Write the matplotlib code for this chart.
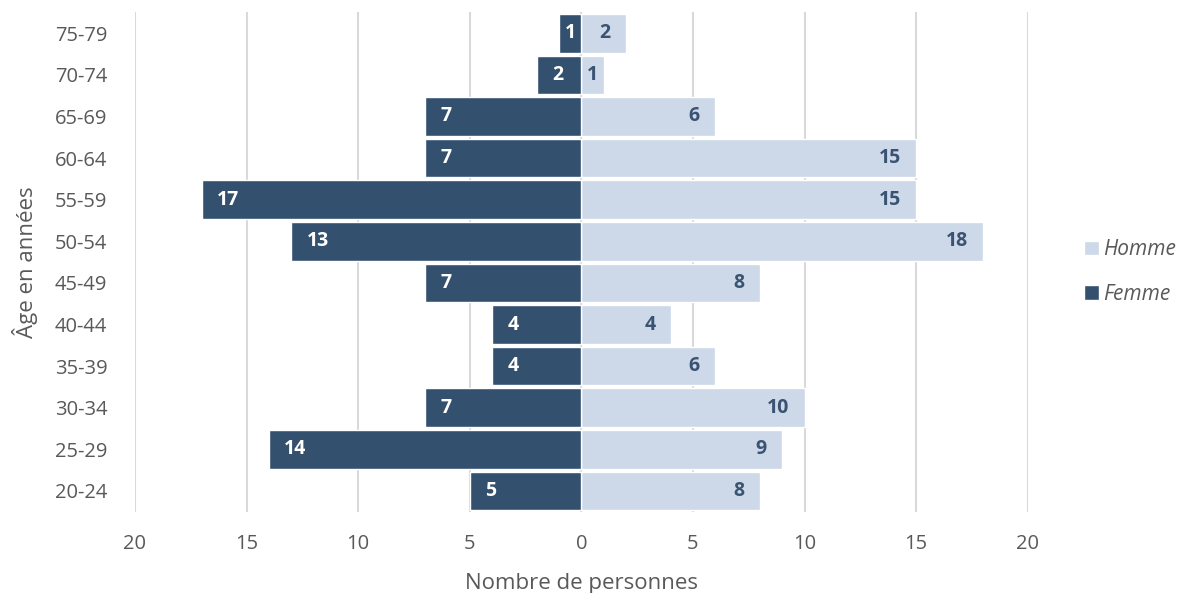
import matplotlib.pyplot as plt
import numpy as np

plt.rcParams['font.family'] = ['Open Sans', 'DejaVu Sans']

# age groups, bottom to top
ages = ['20-24', '25-29', '30-34', '35-39', '40-44', '45-49',
        '50-54', '55-59', '60-64', '65-69', '70-74', '75-79']
femme = [5, 14, 7, 4, 4, 7, 13, 17, 7, 7, 2, 1]
homme = [8, 9, 10, 6, 4, 8, 18, 15, 15, 6, 1, 2]
xticks = [-20, -15, -10, -5, 0, 5, 10, 15, 20]
xticklabels = ['20', '15', '10', '5', '0', '5', '10', '15', '20']

dark = '#33506f'
light = '#cdd8e8'
txt = '#595959'

fig = plt.figure(figsize=(11.84, 5.93), dpi=100)
ax = fig.add_axes([0.114, 0.137, 0.754, 0.842])

y = np.arange(len(ages))
hb = ax.barh(y, homme, height=0.93, color=light, edgecolor='white', linewidth=1.0, label='Homme', zorder=2)
fb = ax.barh(y, -np.array(femme), height=0.93, color=dark, edgecolor='white', linewidth=1.0, label='Femme', zorder=2)

# value labels, Excel "inside end" style
for i, v in enumerate(femme):
    if v <= 1:
        ax.annotate(str(v), (-v / 2, i), ha='center', va='center', color='white',
                    fontsize=14, fontweight='bold', zorder=4)
    else:
        ax.annotate(str(v), (-v, i), xytext=(11, 0), textcoords='offset points',
                    ha='left', va='center', color='white', fontsize=14, fontweight='bold', zorder=4)
for i, v in enumerate(homme):
    if v <= 1:
        ax.annotate(str(v), (v / 2, i), ha='center', va='center', color='#3a5373',
                    fontsize=14, fontweight='bold', zorder=4)
    else:
        ax.annotate(str(v), (v, i), xytext=(-11, 0), textcoords='offset points',
                    ha='right', va='center', color='#3a5373', fontsize=14, fontweight='bold', zorder=4)

ax.set_xlim(-20, 20)
ax.set_ylim(-0.5, len(ages) - 0.5)
ax.set_xticks(xticks)
ax.set_xticklabels(xticklabels)
ax.set_yticks(y)
ax.set_yticklabels(ages)
ax.tick_params(length=0, labelsize=14.5, colors=txt, pad=20)
ax.tick_params(axis='x', pad=16)

ax.grid(axis='x', color='#d9d9d9', linewidth=1.5, zorder=0)
ax.axvline(0, color='#bfbfbf', linewidth=1.5, zorder=1)
for s in ax.spines.values():
    s.set_visible(False)

ax.set_xlabel('Nombre de personnes', fontsize=16, color=txt, labelpad=14)
ax.set_ylabel('Âge en années', fontsize=16, color=txt, labelpad=12)

leg = ax.legend(handles=[hb, fb], loc='center left', bbox_to_anchor=(1.063, 0.48),
                frameon=False, fontsize=15, handlelength=0.7, handleheight=0.7,
                handletextpad=0.2, labelspacing=1.15, borderpad=0, borderaxespad=0)
for t in leg.get_texts():
    t.set_color(txt)
    t.set_fontstyle('italic')

fig.savefig('out.png', dpi=100)
